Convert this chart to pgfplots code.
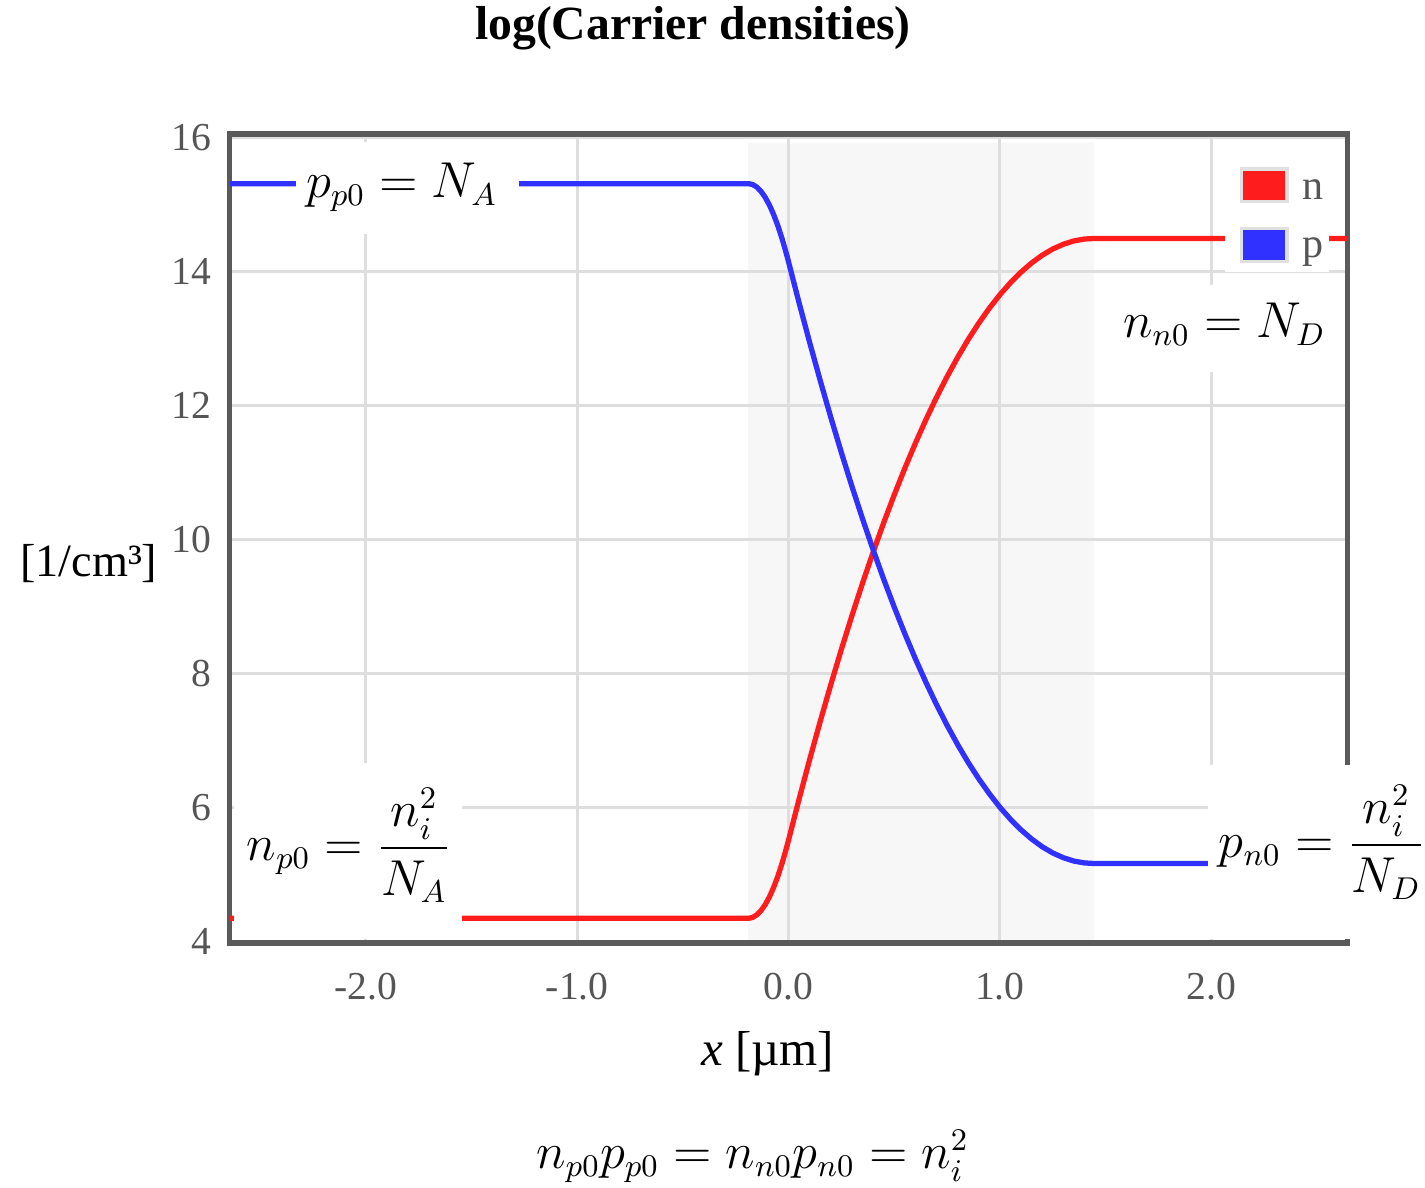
\documentclass[border=0pt]{standalone}
\usepackage{amsmath}
\usepackage{fontspec}
\setmainfont{Liberation Serif}
\usepackage{pgfplots}
\pgfplotsset{compat=1.18}
\definecolor{curvered}{RGB}{255,28,28}
\definecolor{curveblue}{RGB}{48,48,255}
\definecolor{axisgray}{RGB}{90,90,90}
\definecolor{gridgray}{RGB}{222,222,222}
\definecolor{depl}{RGB}{247,247,247}
\definecolor{ticktext}{RGB}{85,85,85}

\begin{document}
\begin{tikzpicture}
\path (0,0) rectangle (14.25,11.91);
\begin{axis}[
  set layers,
  at={(2.305cm,2.45cm)}, anchor=south west,
  scale only axis, width=11.21cm, height=8.115cm,
  xmin=-2.644, xmax=2.644, ymin=3.97, ymax=16.05,
  xtick={-2,-1,0,1,2}, xticklabels={-2.0,-1.0,0.0,1.0,2.0},
  ytick={4,6,8,10,12,14,16}, yticklabels={4,6,8,10,12,14,16},
  major tick length=0pt,
  grid=major, major grid style={draw=gridgray, line width=0.85pt},
  axis line style={draw=axisgray, line width=1.5pt},
  tick label style={font=\fontsize{11.3}{13}\selectfont, text=ticktext},
  xticklabel style={anchor=center, inner sep=0pt, yshift=-0.44cm},
  yticklabel style={anchor=east, inner sep=0pt, xshift=-0.18cm},
]
% depletion region
\addplot[fill=depl, draw=none, on layer=axis background] coordinates {
(-0.19,3.97) (1.443,3.97) (1.443,15.92) (-0.19,15.92)};
% n
\addplot[curvered, line width=1.5pt, line join=round] coordinates {
(-2.65,4.34) (-0.19,4.34) (-0.17,4.353) (-0.15,4.392) (-0.13,4.457) (-0.11,4.547)
(-0.09,4.664) (-0.07,4.807) (-0.05,4.975) (-0.03,5.170) (-0.01,5.390) (0,5.51)
(0.05,6.123) (0.1,6.714) (0.15,7.283) (0.2,7.831) (0.25,8.357) (0.3,8.862)
(0.35,9.345) (0.4,9.806) (0.45,10.246) (0.5,10.663) (0.55,11.060) (0.6,11.434)
(0.65,11.787) (0.7,12.119) (0.75,12.428) (0.8,12.716) (0.85,12.983) (0.9,13.227)
(0.95,13.450) (1.0,13.652) (1.05,13.831) (1.1,13.989) (1.15,14.126) (1.2,14.241)
(1.25,14.334) (1.3,14.405) (1.35,14.455) (1.4,14.483) (1.44,14.49) (2.65,14.49)};
% p
\addplot[curveblue, line width=1.5pt, line join=round] coordinates {
(-2.65,15.31) (-0.19,15.31) (-0.17,15.297) (-0.15,15.258) (-0.13,15.193) (-0.11,15.103)
(-0.09,14.986) (-0.07,14.843) (-0.05,14.675) (-0.03,14.480) (-0.01,14.260) (0,14.14)
(0.05,13.527) (0.1,12.936) (0.15,12.367) (0.2,11.819) (0.25,11.293) (0.3,10.788)
(0.35,10.305) (0.4,9.844) (0.45,9.404) (0.5,8.987) (0.55,8.590) (0.6,8.216)
(0.65,7.863) (0.7,7.531) (0.75,7.222) (0.8,6.934) (0.85,6.667) (0.9,6.423)
(0.95,6.200) (1.0,5.998) (1.05,5.819) (1.1,5.661) (1.15,5.524) (1.2,5.409)
(1.25,5.316) (1.3,5.245) (1.35,5.195) (1.4,5.167) (1.44,5.16) (2.65,5.16)};
\end{axis}

% title and axis labels
\node[inner sep=0pt, font=\bfseries\fontsize{13.6}{16}\selectfont] at (6.95,11.63) {log(Carrier densities)};
\node[inner sep=0pt, font=\fontsize{13.2}{15}\selectfont] at (0.89,6.26) {[1/cm³]};
\node[inner sep=0pt, font=\fontsize{14}{16}\selectfont] at (7.70,1.34) {\textit{x} [µm]};

% legend
\fill[white] (12.29,9.18) rectangle (13.33,10.33);
\draw[fill=curvered, draw=black!12, line width=0.9pt] (12.45,9.885) rectangle (12.91,10.215);
\draw[fill=curveblue, draw=black!12, line width=0.9pt] (12.45,9.285) rectangle (12.91,9.62);
\node[anchor=base west, inner sep=0pt, text=ticktext, font=\fontsize{12}{14}\selectfont] at (13.06,9.91) {n};
\node[anchor=base west, inner sep=0pt, text=ticktext, font=\fontsize{12}{14}\selectfont] at (13.06,9.33) {p};

% annotations
\begin{scope}[every node/.style={font=\fontsize{13.3}{16}\selectfont, inner sep=0pt}]
\fill[white] (2.97,9.56) rectangle (5.21,10.49);
\node at (4.03,10.03) {$p_{p0} = N_A$};
\fill[white] (11.20,8.18) rectangle (13.46,9.05);
\node at (12.28,8.66) {$n_{n0} = N_D$};
\fill[white] (2.35,2.49) rectangle (4.63,4.26);
\node at (3.50,3.43) {$n_{p0} = \dfrac{n_i^2}{N_A}$};
\fill[white] (12.12,2.49) rectangle (14.25,4.24);
\node at (13.26,3.46) {$p_{n0} = \dfrac{n_i^2}{N_D}$};
\node at (7.55,0.31) {$n_{p0}p_{p0} = n_{n0}p_{n0} = n_i^2$};
\end{scope}
\end{tikzpicture}
\end{document}
